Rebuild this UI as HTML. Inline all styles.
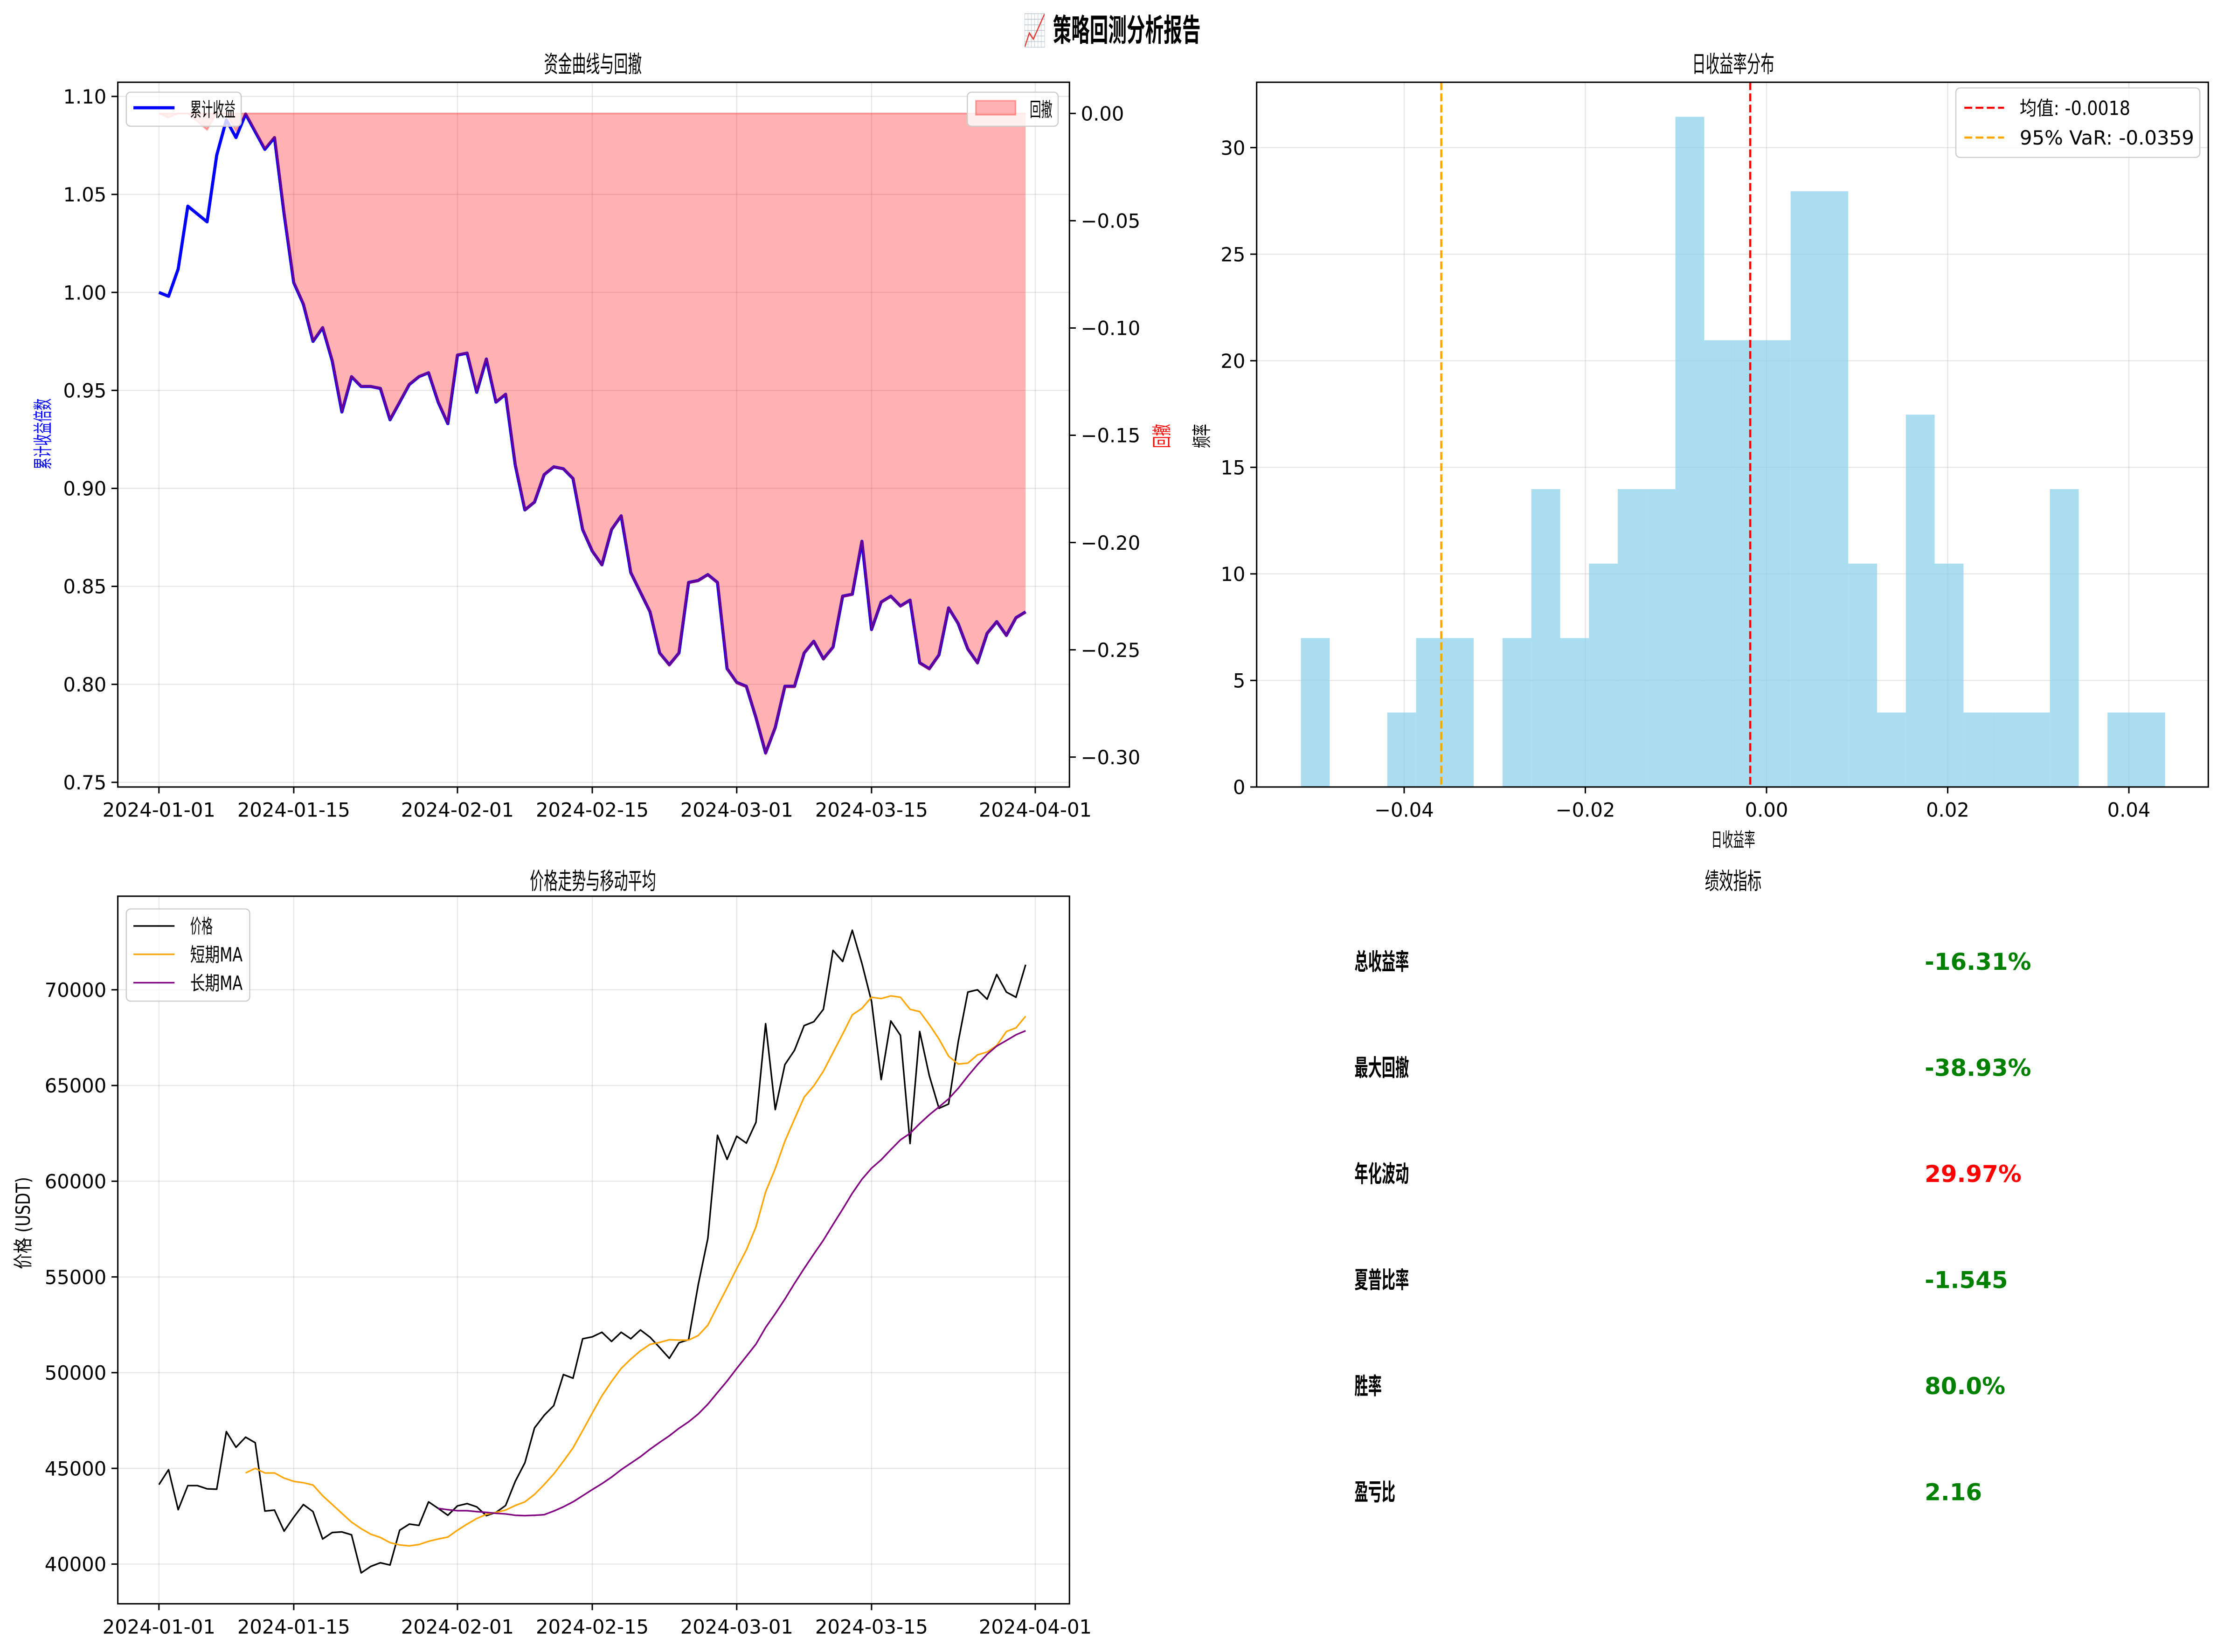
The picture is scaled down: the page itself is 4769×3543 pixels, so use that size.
<!DOCTYPE html>
<html><head><meta charset="utf-8"><style>
html,body{margin:0;padding:0;background:#fff;}
svg{display:block;}
text{font-family:"DejaVu Sans","Liberation Sans","Noto Sans CJK SC",sans-serif;}
</style></head><body>
<svg id="fig" xmlns="http://www.w3.org/2000/svg" width="4769" height="3543" viewBox="0 0 1568 1165">
<rect x="0" y="0" width="1568" height="1165" fill="#fff"/>
<defs>
<clipPath id="c1"><rect x="83" y="58" width="671" height="497"/></clipPath>
<clipPath id="c2"><rect x="886" y="58" width="671" height="497"/></clipPath>
<clipPath id="c3"><rect x="83" y="632" width="671" height="499"/></clipPath>
</defs>
<g id="root"></g>
</svg>
<script>
// ---- data ----
const equityValues = [1.000,0.998,1.012,1.044,1.040,1.036,1.070,1.088,1.079,1.091,1.082,1.073,1.079,1.040,1.005,0.994,0.975,0.982,0.965,0.939,0.957,0.952,0.952,0.951,0.935,0.944,0.953,0.957,0.959,0.944,0.933,0.968,0.969,0.949,0.966,0.944,0.948,0.912,0.889,0.893,0.907,0.911,0.910,0.905,0.879,0.868,0.861,0.879,0.886,0.857,0.847,0.837,0.816,0.810,0.816,0.852,0.853,0.856,0.852,0.808,0.801,0.799,0.783,0.765,0.778,0.799,0.799,0.816,0.822,0.813,0.819,0.845,0.846,0.873,0.828,0.842,0.845,0.840,0.843,0.811,0.808,0.815,0.839,0.831,0.818,0.811,0.826,0.832,0.825,0.834,0.837];
const priceValues = [44150,44930,42840,44100,44100,43930,43910,46920,46100,46630,46340,42770,42820,41720,42450,43110,42740,41310,41650,41680,41530,39540,39880,40070,39950,41770,42090,42020,43250,42910,42550,43040,43160,42990,42530,42700,43060,44320,45290,47110,47770,48280,49900,49710,51770,51870,52110,51630,52110,51770,52230,51850,51310,50750,51560,51720,54590,57010,62400,61140,62350,61990,63080,68230,63740,66090,66840,68130,68330,68980,72060,71480,73110,71380,69390,65310,68370,67620,61970,67820,65510,63810,64030,67280,69880,70000,69510,70800,69880,69610,71310];
const shortMaStart = 9;
const shortMaValues = [44760,45000,44760,44760,44490,44320,44250,44130,43570,43110,42650,42190,41850,41560,41390,41120,41000,40950,41020,41190,41310,41410,41770,42090,42380,42600,42700,42820,43060,43250,43640,44150,44710,45370,46070,46970,47890,48790,49540,50220,50710,51140,51480,51580,51720,51700,51700,51940,52480,53470,54440,55440,56410,57620,59440,60660,62090,63250,64390,64980,65750,66720,67690,68690,69030,69610,69540,69680,69610,68980,68860,68180,67430,66530,66120,66170,66600,66750,67090,67820,68010,68620];
const longMaStart = 29;
const longMaValues = [42910,42840,42790,42790,42740,42700,42650,42620,42550,42530,42550,42580,42770,42990,43250,43570,43890,44200,44540,44930,45270,45610,46000,46360,46700,47090,47430,47840,48350,48960,49560,50220,50850,51490,52360,53080,53840,54660,55440,56190,56920,57740,58540,59370,60100,60680,61120,61650,62160,62500,63010,63470,63880,64300,64850,65490,66090,66630,67060,67350,67650,67860];
const histStart = -0.0514;
const histBinWidth = 0.00318;
const histCounts = [2,0,0,1,2,2,0,2,4,2,3,4,4,9,6,6,6,8,8,3,1,5,3,1,1,1,4,0,1,1];
const meanReturn = -0.0018;
const var95 = -0.0359;
const dateTickDays = [0,14,31,45,60,74,91];
const dateTickLabels = ["2024-01-01","2024-01-15","2024-02-01","2024-02-15","2024-03-01","2024-03-15","2024-04-01"];
const equityTicks = [0.75,0.80,0.85,0.90,0.95,1.00,1.05,1.10];
const ddTicks = [0,-0.05,-0.10,-0.15,-0.20,-0.25,-0.30];
const histXTicks = [-0.04,-0.02,0,0.02,0.04];
const histYTicks = [0,5,10,15,20,25,30];
const priceTicks = [40000,45000,50000,55000,60000,65000,70000];
const metricLabels = ["总收益率","最大回撤","年化波动","夏普比率","胜率","盈亏比"];
const metricValues = ["-16.31%","-38.93%","29.97%","-1.545","80.0%","2.16"];
const metricColors = ["green","green","red","green","green","green"];

// ---- helpers ----
const NS="http://www.w3.org/2000/svg";
const root=document.getElementById('root');
const FS=13.7;
function mk(tag,attrs,parent){const e=document.createElementNS(NS,tag);for(const k in attrs)e.setAttribute(k,attrs[k]);(parent||root).appendChild(e);return e;}
function txt(s,x,y,size,opts,parent){opts=opts||{};const e=mk('text',{x:x,y:y,'font-size':size,'text-anchor':opts.anchor||'start',fill:opts.fill||'#000','font-weight':opts.weight||'normal'},parent);if(opts.len){e.setAttribute('textLength',opts.len);e.setAttribute('lengthAdjust','spacingAndGlyphs');}if(opts.rot){e.setAttribute('transform','rotate(-90 '+x+' '+y+')');}e.textContent=s;return e;}
const fmtMinus=s=>s.replace('-','\u2212');

// axis functions
const AX1={l:83,r:754,t:58,b:555};
const xDay=d=>112+d*6.79;
const yEq=v=>68+(1.10-v)*1382;
const yDd=v=>80-v*1513;
const AX2={l:886,r:1557,t:58,b:555};
const xRet=v=>990+(v+0.04)*6387.5;
const yCnt=v=>555-v*15.03;
const AX3={l:83,r:754,t:632,b:1131};
const yPr=v=>1103-(v-40000)*0.0135;

function grid(ax,xs,ys,parent){
  xs.forEach(x=>{const g=mk('line',{x1:x,x2:x,y1:ax.t,y2:ax.b,stroke:'#b0b0b0','stroke-opacity':0.3,'stroke-width':0.8},parent);
  
  });
  ys.forEach(y=>{const g=mk('line',{x1:ax.l,x2:ax.r,y1:y,y2:y,stroke:'#b0b0b0','stroke-opacity':0.3,'stroke-width':0.8},parent);
  
  });
}
function frame(ax,parent){const f=mk('rect',{x:ax.l,y:ax.t,width:ax.r-ax.l,height:ax.b-ax.t,fill:'none',stroke:'#000','stroke-width':1},parent);

}
function xticks(ax,xs,labels,parent){xs.forEach((x,i)=>{mk('line',{x1:x,x2:x,y1:ax.b,y2:ax.b+4.5,stroke:'#000','stroke-width':1},parent);
const t=txt(labels[i],x,ax.b+21,FS,{anchor:'middle'},parent);

});}
function yticksL(ax,ys,labels,parent){ys.forEach((y,i)=>{mk('line',{x1:ax.l-4.5,x2:ax.l,y1:y,y2:y,stroke:'#000','stroke-width':1},parent);
const t=txt(labels[i],ax.l-8,y+5,FS,{anchor:'end'},parent);

});}
function polyline(xs,ys,attrs,parent){let d='';xs.forEach((x,i)=>{d+=(i?'L':'M')+x.toFixed(2)+','+ys[i].toFixed(2);});attrs.d=d;attrs.fill='none';return mk('path',attrs,parent);}

// ---- suptitle ----
const st=txt('📈 策略回测分析报告',784,29,21.9,{anchor:'middle',weight:'bold',len:125});



// ---- panel 1: equity & drawdown ----
const p1=mk('g',{});


const t1=txt('资金曲线与回撤',418,51,16.4,{anchor:'middle',len:69},p1);


grid(AX1,dateTickDays.map(xDay),equityTicks.map(yEq),p1);
const g1=mk('g',{'clip-path':'url(#c1)'},p1);
const eqX=equityValues.map((v,i)=>xDay(i));
const eqLine=polyline(eqX,equityValues.map(yEq),{stroke:'#0000ff','stroke-width':2.2,'stroke-linejoin':'round'},g1);


let peak=-Infinity;const dd=equityValues.map(v=>{peak=Math.max(peak,v);return v/peak-1;});
let fd='M'+eqX[0]+','+yDd(0);
dd.forEach((v,i)=>{fd+='L'+eqX[i].toFixed(2)+','+yDd(v).toFixed(2);});
fd+='L'+eqX[eqX.length-1]+','+yDd(0)+'Z';
const ddFill=mk('path',{d:fd,fill:'#ff0000','fill-opacity':0.3,stroke:'none'},g1);


const ddLine=polyline(eqX,dd.map(yDd),{stroke:'#ff0000','stroke-opacity':0.28,'stroke-width':1.2,'stroke-linejoin':'round'},g1);


mk('line',{x1:eqX[0],x2:eqX[eqX.length-1],y1:yDd(0),y2:yDd(0),stroke:'#ff0000','stroke-opacity':0.3,'stroke-width':1.2},g1);
frame(AX1,p1);
xticks(AX1,dateTickDays.map(xDay),dateTickLabels,p1);
yticksL(AX1,equityTicks.map(yEq),equityTicks.map(v=>v.toFixed(2)),p1);
ddTicks.forEach(v=>{const y=yDd(v);mk('line',{x1:AX1.r,x2:AX1.r+4.5,y1:y,y2:y,stroke:'#000','stroke-width':1},p1);
const t=txt(fmtMinus(v.toFixed(2)),AX1.r+8,y+5,FS,{},p1);

});
const yl1=txt('累计收益倍数',35,331,FS,{fill:'#0000ff',rot:true,len:50},p1);


const yr1=txt('回撤',824,316,FS,{fill:'#ff0000',rot:true,len:17},p1);


// legends
const lg1=mk('g',{},p1);


mk('rect',{x:89,y:65,width:81,height:24,rx:3,fill:'#fff','fill-opacity':0.8,stroke:'#ccc','stroke-width':0.8},lg1);
mk('line',{x1:94,x2:123,y1:76,y2:76,stroke:'#0000ff','stroke-width':2.2},lg1);
txt('累计收益',134,82,FS,{len:32},lg1);
const lg2=mk('g',{},p1);


mk('rect',{x:682,y:65,width:64,height:24,rx:3,fill:'#fff','fill-opacity':0.8,stroke:'#ccc','stroke-width':0.8},lg2);
mk('rect',{x:688,y:71,width:28,height:10,fill:'#ff0000','fill-opacity':0.3,stroke:'#ff0000','stroke-opacity':0.3},lg2);
txt('回撤',726,82,FS,{len:16},lg2);

// ---- panel 2: histogram ----
const p2=mk('g',{});


const t2=txt('日收益率分布',1222,51,16.4,{anchor:'middle',len:58},p2);


grid(AX2,histXTicks.map(xRet),histYTicks.map(yCnt),p2);
const g2=mk('g',{'clip-path':'url(#c2)'},p2);
const total=histCounts.reduce((a,b)=>a+b,0);
histCounts.forEach((c,i)=>{if(!c)return;const dens=c/(total*histBinWidth);const x0=xRet(histStart+i*histBinWidth),x1=xRet(histStart+(i+1)*histBinWidth);
const b=mk('rect',{x:x0,y:yCnt(dens),width:x1-x0,height:yCnt(0)-yCnt(dens),fill:'#87ceeb','fill-opacity':0.7},g2);

});
const ml=mk('line',{x1:xRet(meanReturn),x2:xRet(meanReturn),y1:AX2.t,y2:AX2.b,stroke:'#ff0000','stroke-width':1.5,'stroke-dasharray':'5.5,2.4'},g2);


const vl=mk('line',{x1:xRet(var95),x2:xRet(var95),y1:AX2.t,y2:AX2.b,stroke:'#ffa500','stroke-width':1.5,'stroke-dasharray':'5.5,2.4'},g2);


frame(AX2,p2);
xticks(AX2,histXTicks.map(xRet),histXTicks.map(v=>fmtMinus(v.toFixed(2))),p2);
yticksL(AX2,histYTicks.map(yCnt),histYTicks.map(String),p2);
const xl2=txt('日收益率',1222,597,FS,{anchor:'middle',len:31},p2);


const yl2=txt('频率',852,316,FS,{rot:true,len:17},p2);


const lg3=mk('g',{},p2);


mk('rect',{x:1379,y:62,width:172,height:49,rx:3,fill:'#fff','fill-opacity':0.8,stroke:'#ccc','stroke-width':0.8},lg3);
mk('line',{x1:1385,x2:1413,y1:76,y2:76,stroke:'#ff0000','stroke-width':1.5,'stroke-dasharray':'5.5,2.4'},lg3);
txt('均值: '+meanReturn.toFixed(4),1424,81,FS,{len:78},lg3);
mk('line',{x1:1385,x2:1413,y1:97,y2:97,stroke:'#ffa500','stroke-width':1.5,'stroke-dasharray':'5.5,2.4'},lg3);
txt('95% VaR: '+var95.toFixed(4),1424,102,FS,{len:123},lg3);

// ---- panel 3: price ----
const p3=mk('g',{});


const t3=txt('价格走势与移动平均',418,627,16.4,{anchor:'middle',len:89},p3);


grid(AX3,dateTickDays.map(xDay),priceTicks.map(yPr),p3);
const g3=mk('g',{'clip-path':'url(#c3)'},p3);
const pl=polyline(priceValues.map((v,i)=>xDay(i)),priceValues.map(yPr),{stroke:'#000','stroke-width':1.1,'stroke-linejoin':'round'},g3);


const sl=polyline(shortMaValues.map((v,i)=>xDay(i+shortMaStart)),shortMaValues.map(yPr),{stroke:'#ffa500','stroke-width':1.1,'stroke-linejoin':'round'},g3);


const ll=polyline(longMaValues.map((v,i)=>xDay(i+longMaStart)),longMaValues.map(yPr),{stroke:'#800080','stroke-width':1.1,'stroke-linejoin':'round'},g3);


frame(AX3,p3);
xticks(AX3,dateTickDays.map(xDay),dateTickLabels,p3);
yticksL(AX3,priceTicks.map(yPr),priceTicks.map(String),p3);
const yl3=txt('价格 (USDT)',21,895,FS,{rot:true,len:65},p3);


const lg4=mk('g',{},p3);


mk('rect',{x:89,y:641,width:87,height:65,rx:3,fill:'#fff','fill-opacity':0.8,stroke:'#ccc','stroke-width':0.8},lg4);
[['价格','#000',16],['短期MA','#ffa500',37],['长期MA','#800080',37]].forEach((it,i)=>{const y=653+i*20;
mk('line',{x1:94,x2:123,y1:y,y2:y,stroke:it[1],'stroke-width':1.1},lg4);
txt(it[0],134,y+5,FS,{len:it[2]},lg4);});

// ---- panel 4: metrics ----
const p4=mk('g',{});


const t4=txt('绩效指标',1222,627,16.4,{anchor:'middle',len:40},p4);


metricLabels.forEach((lab,i)=>{const y=684+i*74.8;
const a=txt(lab,955,y,16.4,{weight:'bold',len:lab.length*9.6},p4);


const b=txt(metricValues[i],1357,y,16.4,{weight:'bold',fill:metricColors[i]},p4);

});
</script>
</body></html>
